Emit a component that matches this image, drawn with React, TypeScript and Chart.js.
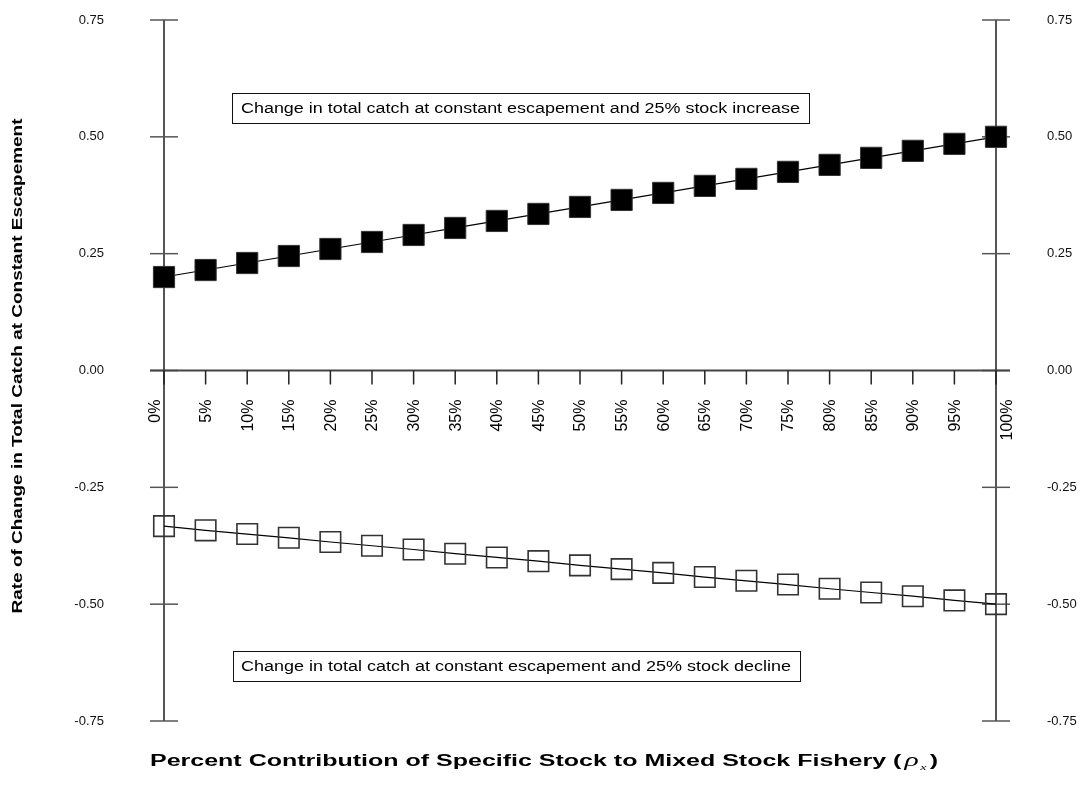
import React, { useEffect, useRef } from 'react';
import { Chart, registerables } from 'chart.js';

Chart.register(...registerables);

// Share of the specific stock in the mixed-stock fishery
const categories = [
  '0%', '5%', '10%', '15%', '20%', '25%', '30%', '35%', '40%', '45%', '50%',
  '55%', '60%', '65%', '70%', '75%', '80%', '85%', '90%', '95%', '100%',
];

// Rate of change in total catch, 25% stock increase
const increaseSeries = [
  0.2, 0.215, 0.23, 0.245, 0.26, 0.275, 0.29, 0.305, 0.32, 0.335, 0.35,
  0.365, 0.38, 0.395, 0.41, 0.425, 0.44, 0.455, 0.47, 0.485, 0.5,
];

// Rate of change in total catch, 25% stock decline
const declineSeries = [
  -0.333, -0.342, -0.35, -0.358, -0.367, -0.375, -0.383, -0.392, -0.4, -0.408, -0.417,
  -0.425, -0.433, -0.442, -0.45, -0.458, -0.467, -0.475, -0.483, -0.492, -0.5,
];

const yTicks = [-0.75, -0.5, -0.25, 0, 0.25, 0.5, 0.75];

const increaseNote = 'Change in total catch at constant escapement and 25% stock increase';
const declineNote = 'Change in total catch at constant escapement and 25% stock decline';
const yTitle = 'Rate of Change in Total Catch at Constant Escapement';
const xTitleMain = 'Percent Contribution of Specific Stock to Mixed Stock Fishery (';

const SANS = '"Liberation Sans", Arial, Helvetica, sans-serif';
const SERIF = '"Liberation Serif", "Times New Roman", serif';

function line(ctx: CanvasRenderingContext2D, x1: number, y1: number, x2: number, y2: number) {
  ctx.beginPath();
  ctx.moveTo(x1, y1);
  ctx.lineTo(x2, y2);
  ctx.stroke();
}

// Draws text squeezed/stretched horizontally to the given width.
function fitText(
  ctx: CanvasRenderingContext2D,
  text: string,
  x: number,
  y: number,
  width: number,
  font: string,
) {
  ctx.save();
  ctx.font = font;
  const w = ctx.measureText(text).width;
  ctx.translate(x, y);
  ctx.scale(width / w, 1);
  ctx.textAlign = 'left';
  ctx.textBaseline = 'middle';
  ctx.fillText(text, 0, 0);
  ctx.restore();
}

function noteBox(
  ctx: CanvasRenderingContext2D,
  text: string,
  bx: number,
  by: number,
  bw: number,
  bh: number,
  tx: number,
  tw: number,
) {
  ctx.save();
  ctx.fillStyle = '#fff';
  ctx.fillRect(bx, by, bw, bh);
  ctx.strokeStyle = '#111';
  ctx.lineWidth = 1;
  ctx.strokeRect(bx + 0.5, by + 0.5, bw, bh);
  ctx.fillStyle = '#000';
  fitText(ctx, text, tx, by + bh / 2 + 1, tw, `14px ${SANS}`);
  ctx.restore();
}

const crossAxesPlugin = {
  id: 'crossAxes',
  beforeDatasetsDraw(chart: any) {
    const { ctx } = chart;
    const x = chart.scales.x;
    const y = chart.scales.y;
    const last = categories.length - 1;
    const left = x.getPixelForValue(0);
    const right = x.getPixelForValue(last);
    const top = y.getPixelForValue(0.75);
    const bottom = y.getPixelForValue(-0.75);
    const zero = y.getPixelForValue(0);
    ctx.save();
    ctx.strokeStyle = '#555';
    ctx.lineWidth = 2;
    line(ctx, left, top, left, bottom);
    line(ctx, right, top, right, bottom);
    ctx.lineWidth = 1.5;
    yTicks.forEach((v) => {
      const py = y.getPixelForValue(v);
      line(ctx, left - 14, py, left + 14, py);
      line(ctx, right - 14, py, right + 14, py);
    });
    ctx.strokeStyle = '#444';
    ctx.lineWidth = 2;
    line(ctx, left - 14, zero, right + 14, zero);
    ctx.strokeStyle = '#222';
    ctx.lineWidth = 1.5;
    categories.forEach((_, i) => {
      const px = x.getPixelForValue(i);
      line(ctx, px, zero, px, zero + 14);
    });
    ctx.restore();
  },
  afterDraw(chart: any) {
    const { ctx } = chart;
    const x = chart.scales.x;
    const y = chart.scales.y;
    const last = categories.length - 1;
    const zero = y.getPixelForValue(0);

    // rotated category labels hanging below the zero line
    ctx.save();
    ctx.fillStyle = '#000';
    ctx.font = `16px ${SANS}`;
    categories.forEach((c, i) => {
      const shift = i === 0 ? -8 : i === last ? 12 : 1;
      const px = x.getPixelForValue(i) + shift;
      ctx.save();
      ctx.translate(px, zero + 29);
      ctx.rotate(-Math.PI / 2);
      ctx.textAlign = 'right';
      ctx.textBaseline = 'middle';
      ctx.fillText(c, 0, 0);
      ctx.restore();
    });
    ctx.restore();

    // note boxes
    noteBox(ctx, increaseNote, 232, 93, 577, 30, 241, 559);
    noteBox(ctx, declineNote, 233, 651, 567, 30, 241, 550);

    // y-axis title
    ctx.save();
    ctx.fillStyle = '#000';
    ctx.font = `bold 15px ${SANS}`;
    const yw = ctx.measureText(yTitle).width;
    ctx.translate(18, 366);
    ctx.rotate(-Math.PI / 2);
    ctx.scale(495 / yw, 1);
    ctx.textAlign = 'center';
    ctx.textBaseline = 'middle';
    ctx.fillText(yTitle, 0, 0);
    ctx.restore();

    // x-axis title with italic rho and subscript x
    ctx.save();
    ctx.fillStyle = '#000';
    const segs = [
      { t: xTitleMain, f: `bold 16px ${SANS}`, dy: 0, gap: 2 },
      { t: 'ρ', f: `italic 19px ${SERIF}`, dy: 0, gap: 1 },
      { t: 'x', f: `italic 9px ${SERIF}`, dy: 4, gap: 2 },
      { t: ')', f: `bold 16px ${SANS}`, dy: 0, gap: 0 },
    ];
    let total = 0;
    const widths = segs.map((s) => {
      ctx.font = s.f;
      const w = ctx.measureText(s.t).width;
      total += w + s.gap;
      return w;
    });
    ctx.translate(150, 766);
    ctx.scale(788 / total, 1);
    ctx.textAlign = 'left';
    ctx.textBaseline = 'alphabetic';
    let cx = 0;
    segs.forEach((s, i) => {
      ctx.font = s.f;
      ctx.fillText(s.t, cx, s.dy);
      cx += widths[i] + s.gap;
    });
    ctx.restore();
  },
};

// Fixed axis widths; label padding must not push the plot area inwards.
function fixAxis(width: number) {
  return (s: any) => {
    s.width = width;
    s.paddingTop = 0;
    s.paddingBottom = 0;
  };
}

export default function App() {
  const canvasRef = useRef<HTMLCanvasElement | null>(null);

  useEffect(() => {
    document.body.style.margin = '0';
    const canvas = canvasRef.current;
    if (!canvas) return;
    const tickFont = { family: SANS, size: 13 };
    const chart = new Chart(canvas, {
      type: 'line',
      data: {
        labels: categories,
        datasets: [
          {
            label: 'Stock increase',
            data: increaseSeries,
            borderColor: '#000',
            borderWidth: 1.2,
            pointStyle: 'rect',
            pointRadius: 15,
            pointBackgroundColor: '#000',
            pointBorderColor: '#333',
            pointBorderWidth: 1,
            clip: false,
            yAxisID: 'y',
          },
          {
            label: 'Stock decline',
            data: declineSeries,
            borderColor: '#000',
            borderWidth: 1.2,
            pointStyle: 'rect',
            pointRadius: 14.5,
            pointBackgroundColor: 'rgba(0,0,0,0)',
            pointBorderColor: '#333',
            pointBorderWidth: 1.6,
            clip: false,
            yAxisID: 'y',
          },
        ],
      },
      options: {
        responsive: false,
        animation: false,
        devicePixelRatio: 1,
        layout: { padding: { top: 20, bottom: 77, left: 0, right: 0 } },
        plugins: {
          legend: { display: false },
          tooltip: { enabled: false },
        },
        scales: {
          x: {
            type: 'category',
            display: false,
            offset: false,
          },
          y: {
            type: 'linear',
            position: 'left',
            min: -0.75,
            max: 0.75,
            grid: { display: false, drawTicks: false },
            border: { display: false },
            ticks: {
              stepSize: 0.25,
              font: tickFont,
              color: '#111',
              padding: 60,
              callback: (v: any) => Number(v).toFixed(2),
            },
            afterFit: fixAxis(164),
          },
          y2: {
            type: 'linear',
            position: 'right',
            min: -0.75,
            max: 0.75,
            grid: { display: false, drawTicks: false },
            border: { display: false },
            ticks: {
              stepSize: 0.25,
              font: tickFont,
              color: '#111',
              padding: 51,
              callback: (v: any) => Number(v).toFixed(2),
            },
            afterFit: fixAxis(93),
          },
        },
      },
      plugins: [crossAxesPlugin],
    });
    return () => chart.destroy();
  }, []);

  return (
    <div style={{ width: 1089, height: 798, background: '#fff' }}>
      <canvas ref={canvasRef} width={1089} height={798} style={{ display: 'block' }} />
    </div>
  );
}
